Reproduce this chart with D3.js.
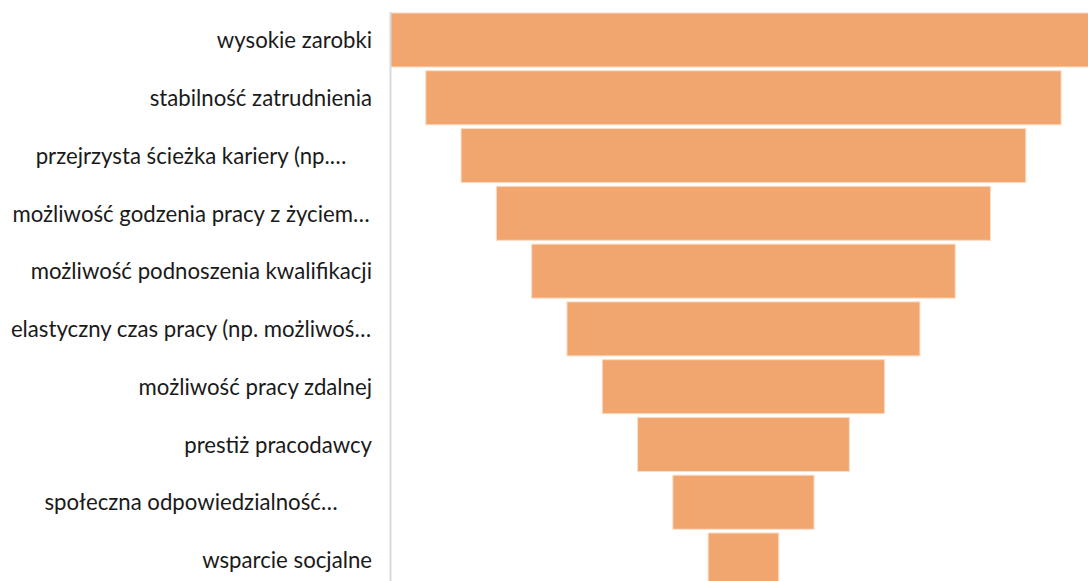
<!DOCTYPE html>
<html>
<head>
<meta charset="utf-8">
<script src="https://cdn.jsdelivr.net/npm/d3@7"></script>
<style>
  html, body { margin: 0; padding: 0; background: #fff; overflow: hidden; }
  svg { display: block; }
  .label { font-family: Lato, "Open Sans", sans-serif; font-size: 22.2px; fill: #1a1a1a; }
</style>
</head>
<body>
<div id="chart"></div>
<script>
var categories = [
    "wysokie zarobki",
    "stabilność zatrudnienia",
    "przejrzysta ścieżka kariery (np.…",
    "możliwość godzenia pracy z życiem…",
    "możliwość podnoszenia kwalifikacji",
    "elastyczny czas pracy (np. możliwoś…",
    "możliwość pracy zdalnej",
    "prestiż pracodawcy",
    "społeczna odpowiedzialność…",
    "wsparcie socjalne"
];
var values = [10, 9, 8, 7, 6, 5, 4, 3, 2, 1];

var width = 1088, height = 581,
    axisX = 390.5,
    plotRight = 1096.4,
    labelRight = 372,
    labelCenter = 191,
    barColor = "#f1a66f";

var data = categories.map((c, i) => ({name: c, value: values[i]}));

var svg = d3.select("#chart").append("svg")
    .attr("width", width)
    .attr("height", height);

var yScale = d3.scaleBand()
    .domain(categories)
    .range([11.1, 588.9])
    .paddingInner(0.065)
    .paddingOuter(0.0325);

// funnel: bars centred in the plot, width from the value
var wScale = d3.scaleLinear()
    .domain([0, d3.max(values)])
    .range([0, plotRight - axisX]);
var center = (axisX + plotRight) / 2;

svg.append("g")
    .selectAll("rect")
    .data(data)
    .enter().append("rect")
    .attr("x", d => center - wScale(d.value) / 2)
    .attr("y", d => yScale(d.name))
    .attr("width", d => wScale(d.value))
    .attr("height", yScale.bandwidth())
    .attr("fill", barColor)
    .attr("stroke", "#fbdcc5")
    .attr("stroke-width", 1);

svg.append("line")
    .attr("x1", axisX).attr("x2", axisX)
    .attr("y1", 12).attr("y2", height)
    .attr("stroke", "#d9d9d9")
    .attr("stroke-width", 2);

// truncated (wrapped) labels are centred, the others right aligned
svg.append("g")
    .selectAll("text")
    .data(data)
    .enter().append("text")
    .attr("class", "label")
    .attr("x", d => d.name.endsWith("…") ? labelCenter : labelRight)
    .attr("text-anchor", d => d.name.endsWith("…") ? "middle" : "end")
    .attr("y", d => yScale(d.name) + yScale.bandwidth() / 2)
    .attr("dy", "0.37em")
    .text(d => d.name);
</script>
</body>
</html>
